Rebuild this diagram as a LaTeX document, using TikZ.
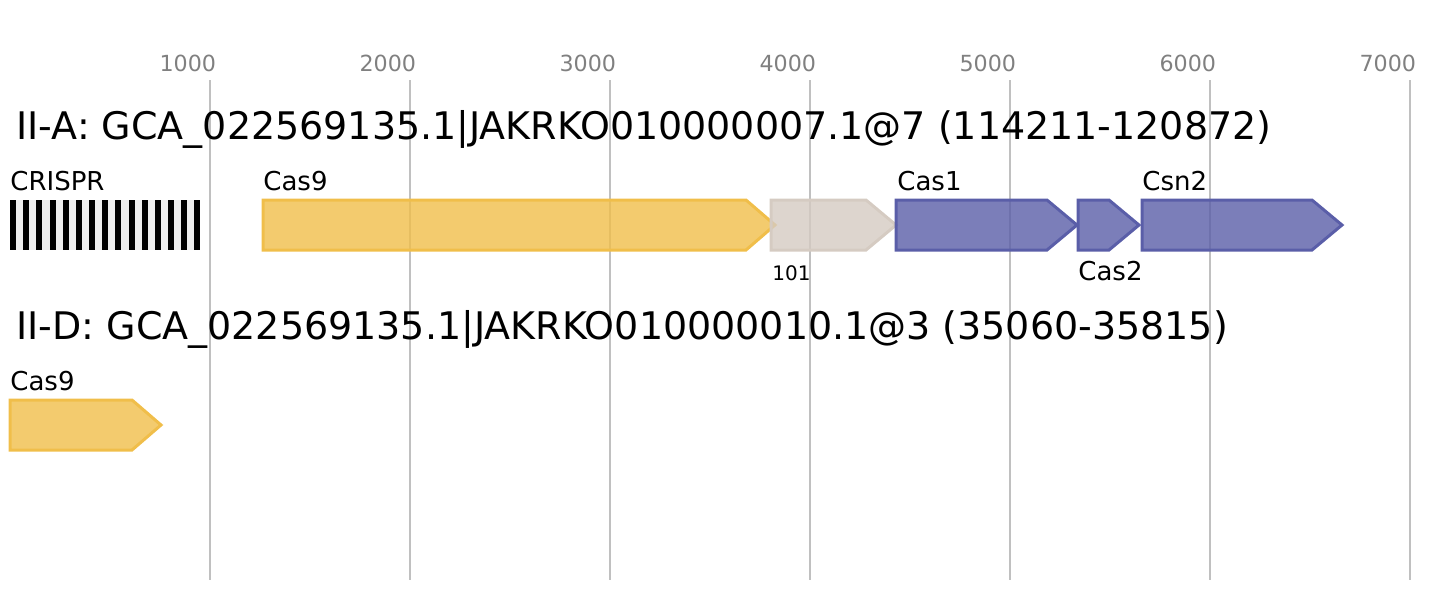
\documentclass[tikz,border=0pt]{standalone}
\usepackage{fontspec}
\setmainfont{DejaVu Sans}
\usepackage{tikz}
\definecolor{gridgray}{HTML}{C0C0C0}
\definecolor{tickgray}{HTML}{808080}
\definecolor{casgold}{HTML}{F0BE4A}
\definecolor{casblue}{HTML}{5A5EA8}
\definecolor{casgray}{HTML}{D5CBC2}
\definecolor{spacergray}{HTML}{EEEEEE}
\newcommand{\gene}[5]{\draw[gene,#5] (#1,#4) -- (#2,#4) -- (#3,#4+25) -- (#2,#4+50) -- (#1,#4+50) -- cycle;}

\begin{document}
\begin{tikzpicture}[x=0.5pt,y=-0.5pt,
    gene/.style={line width=1.5pt,fill opacity=0.8},
    goldgene/.style={draw=casgold,fill=casgold},
    bluegene/.style={draw=casblue,fill=casblue},
    graygene/.style={draw=casgray,fill=casgray},
    ticklabel/.style={anchor=base east,inner sep=0pt,text=tickgray,font=\fontsize{11.1}{13}\selectfont},
    locustitle/.style={anchor=base west,inner sep=0pt,font=\fontsize{19}{23}\selectfont},
    genelabel/.style={anchor=base west,inner sep=0pt,font=\fontsize{13}{15}\selectfont}]
      \useasboundingbox (0,0) rectangle (1432,600);

      \foreach \k in {1,...,7}
        {\draw[gridgray,line width=1pt] (10+200*\k,80) -- (10+200*\k,580);
         \node[ticklabel] (tick\k) at (16.5+200*\k,71) {\k000};}

      \node[locustitle] (titleA) at (16,139) {II-A: GCA\_022569135.1|JAKRKO010000007.1@7 (114211-120872)};

      \fill[spacergray] (10,200) rectangle (200,250);
      \foreach \i in {0,...,14}
        \fill[black] (10+13.17*\i,200) rectangle ++(6,50);
      \node[genelabel] (labCRISPR) at (10,190) {CRISPR};

      \gene{263}{746}{775}{200}{goldgene}
      \node[genelabel] (labCasNineA) at (263,190) {Cas9};
      \gene{771}{866}{896}{200}{graygene}
      \node[genelabel,font=\fontsize{10}{12}\selectfont] (labOrf) at (772,280) {101};
      \gene{896}{1047}{1077}{200}{bluegene}
      \node[genelabel] (labCasOne) at (897,190) {Cas1};
      \gene{1078}{1109}{1139}{200}{bluegene}
      \node[genelabel] (labCasTwo) at (1078,280) {Cas2};
      \gene{1142}{1312}{1342}{200}{bluegene}
      \node[genelabel] (labCsnTwo) at (1142,190) {Csn2};

      \node[locustitle] (titleD) at (16,339) {II-D: GCA\_022569135.1|JAKRKO010000010.1@3 (35060-35815)};

      \gene{10}{132}{161}{400}{goldgene}
      \node[genelabel] (labCasNineD) at (10,390) {Cas9};
    \end{tikzpicture}
\end{document}
